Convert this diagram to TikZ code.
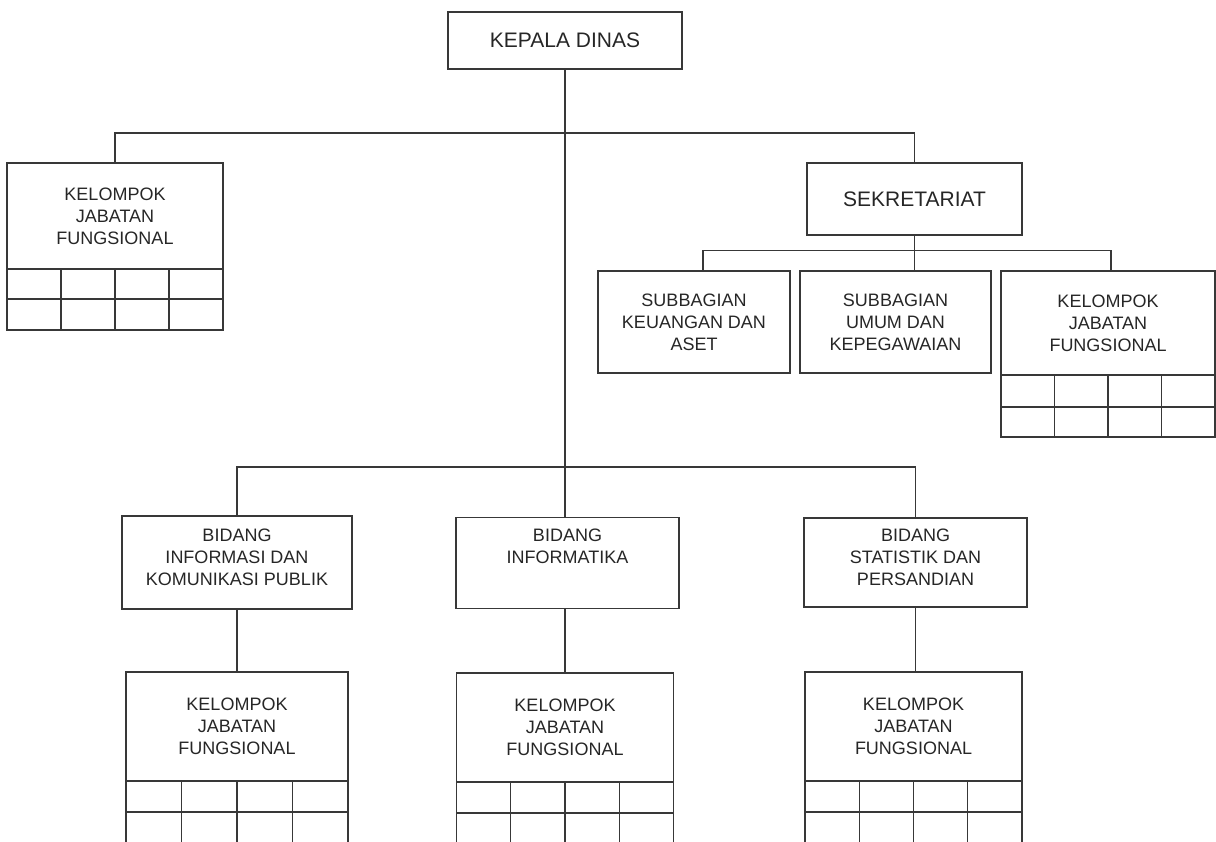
\documentclass[tikz,border=0pt]{standalone}
\usepackage{fontspec}
\setmainfont{Liberation Sans}
\begin{document}
\begin{tikzpicture}[x=1pt,y=-1pt,
  ln/.style={draw=black!78,line width=1.3pt},
  box/.style={ln,rectangle,inner sep=0pt,align=center,text=black!85,
    font=\fontsize{18}{22}\selectfont},
  bidbox/.style={box,text depth=11pt},
  bigbox/.style={box,font=\fontsize{21}{25}\selectfont}]
\useasboundingbox (0,0) rectangle (1216,842);
\clip (0,0) rectangle (1216,842);
\newcommand{\kgrid}[5]{%
  \draw[ln] (#1,#3) rectangle (#2,#5);
  \draw[ln] (#1,#4) -- (#2,#4);
  \foreach \k in {1,2,3} {\draw[ln] ({#1+\k*(#2-#1)/4},#3) -- ({#1+\k*(#2-#1)/4},#5);}
}
% nodes
\node[bigbox,minimum width=234,minimum height=57] (kd) at (565,40.5) {KEPALA DINAS};
\node[box,minimum width=216,minimum height=106] (kjf1) at (115,216) {KELOMPOK\\JABATAN\\FUNGSIONAL};
\node[bigbox,minimum width=215,minimum height=72] (sek) at (914.5,199) {SEKRETARIAT};
\node[box,minimum width=192,minimum height=102] (sub1) at (694,322) {SUBBAGIAN\\KEUANGAN DAN\\ASET};
\node[box,minimum width=191,minimum height=102] (sub2) at (895.5,322) {SUBBAGIAN\\UMUM DAN\\KEPEGAWAIAN};
\node[box,minimum width=214,minimum height=104] (kjf2) at (1108,323) {KELOMPOK\\JABATAN\\FUNGSIONAL};
\node[bidbox,minimum width=230,minimum height=93] (bid1) at (237,562.5) {BIDANG\\INFORMASI DAN\\KOMUNIKASI PUBLIK};
\node[bidbox,minimum width=223,minimum height=91] (bid2) at (567.5,563) {BIDANG\\INFORMATIKA\\\mbox{}};
\node[bidbox,minimum width=223,minimum height=89] (bid3) at (915.5,562.5) {BIDANG\\STATISTIK DAN\\PERSANDIAN};
\node[box,minimum width=222,minimum height=109] (kjf3) at (237,726.5) {KELOMPOK\\JABATAN\\FUNGSIONAL};
\node[box,minimum width=217,minimum height=109] (kjf4) at (565,727.5) {KELOMPOK\\JABATAN\\FUNGSIONAL};
\node[box,minimum width=217,minimum height=109] (kjf5) at (913.5,726.5) {KELOMPOK\\JABATAN\\FUNGSIONAL};
% grids under the functional groups
\kgrid{7}{223}{269}{299}{330}
\kgrid{1001}{1215}{375}{407}{437}
\kgrid{126}{348}{781}{812}{860}
\kgrid{456.5}{673.5}{782}{813}{860}
\kgrid{805}{1022}{781}{812}{860}
% connectors
\coordinate (h1) at (565,133);
\coordinate (h2) at ([yshift=-15pt]sek.south);
\coordinate (h3) at (565,467);
\draw[ln] (kd.south) -- (kd.south |- bid2.north);
\draw[ln] (kjf1.north) |- (h1) -| (sek.north);
\draw[ln] (sek.south) -- (h2);
\draw[ln] ([xshift=9pt]sub1.north) |- (h2) -| ([xshift=3pt]kjf2.north);
\draw[ln] (h2) -- (h2 |- sub2.north);
\draw[ln] (bid1.north) |- (h3) -| (bid3.north);
\draw[ln] (bid1.south) -- (kjf3.north);
\draw[ln] (kjf4.north) -- (kjf4.north |- bid2.south);
\draw[ln] (bid3.south) -- (bid3.south |- kjf5.north);
\end{tikzpicture}
\end{document}
